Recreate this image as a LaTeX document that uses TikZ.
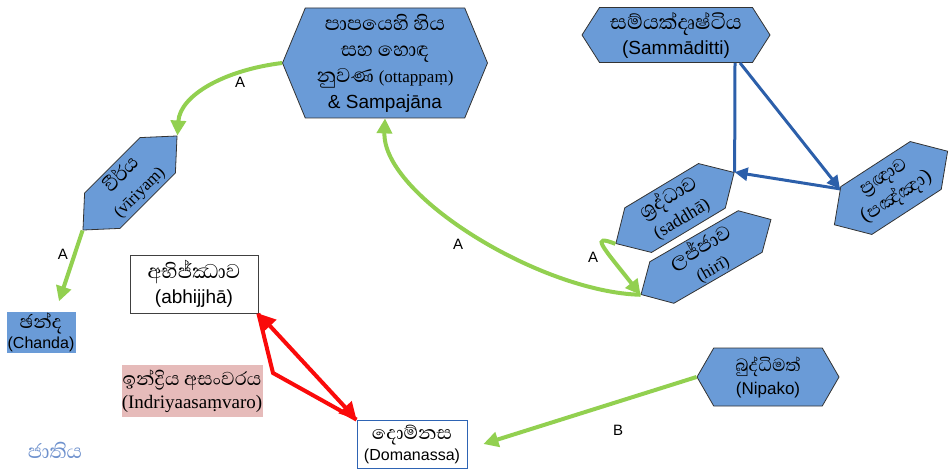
\documentclass[tikz,border=0pt]{standalone}
\usepackage{fontspec}
\setmainfont{Liberation Sans}
\newfontfamily\sinfont[Script=Sinhala, Scale=1.5]{Abhaya Libre}
\newfontfamily\serfont{Liberation Serif}
\usetikzlibrary{shapes.symbols,arrows.meta,calc}
\definecolor{hexblue}{RGB}{106,155,215}
\definecolor{arrowgreen}{RGB}{146,208,80}
\definecolor{linkblue}{RGB}{44,95,170}
\definecolor{dukkhared}{RGB}{250,10,10}
\definecolor{restraintpink}{RGB}{230,187,186}
\definecolor{domblue}{RGB}{46,100,180}
\definecolor{jatiblue}{RGB}{110,145,205}

\begin{document}
\begin{tikzpicture}[x=1pt, y=-1pt]
  \tikzstyle{hexa}=[signal, signal to=east and west, draw=black!80, line width=0.8pt, fill=hexblue, align=center, inner sep=0pt]
  \tikzstyle{whitebox}=[rectangle, draw=black!75, line width=0.8pt, fill=white, align=center, inner sep=0pt]
  \tikzstyle{tagbox}=[rectangle, align=center, inner sep=0pt]
  \tikzstyle{greenarrow}=[draw=arrowgreen, line width=4pt, -{Triangle[length=15pt,width=15pt]}]
  \tikzstyle{bluearrow}=[draw=linkblue, line width=3pt, -{Triangle[length=13pt,width=13pt]}]
  \tikzstyle{redarrow}=[draw=dukkhared, line width=4pt]
  \tikzstyle{lbl}=[font=\fontsize{15}{15}\selectfont]
  \useasboundingbox (0,0) rectangle (950,473);

  % hexagons
  \node[hexa, minimum width=205, minimum height=110, signal pointer angle=135, font=\fontsize{17}{26}\selectfont] (sense) at (385,63)
    {{\sinfont පාපයෙහි හිය}\\{\sinfont සහ හොඳ}\\{\sinfont නුවණ} {\serfont\fontsize{17}{26}\selectfont (ottappaṃ)}\\{\fontsize{19}{26}\selectfont\& Sampajāna}};
  \node[hexa, minimum width=188, minimum height=55, signal pointer angle=115, font=\fontsize{19}{25}\selectfont] (samma) at (676,35)
    {{\sinfont\fontsize{17.5}{25}\selectfont සම්යක්දෘෂ්ටිය}\\(Sammāditti)};
  \node[hexa, rotate=45, minimum width=133, minimum height=50, signal pointer angle=85, font=\fontsize{17}{24}\selectfont] (viriya) at (130,183)
    {{\sinfont\fontsize{16.5}{24}\selectfont වීර්ය}\\{\serfont (vīriyaṃ)}};
  \node[hexa, rotate=31, minimum width=138, minimum height=52, signal pointer angle=90, font=\fontsize{18}{24}\selectfont] (saddha) at (675,208)
    {{\sinfont\fontsize{17}{24}\selectfont ශ්‍රද්ධාව}\\{\serfont (saddhā)}};
  \node[hexa, rotate=30, minimum width=150, minimum height=48, signal pointer angle=90, font=\fontsize{17}{23}\selectfont] (hiri) at (706,257)
    {{\sinfont\fontsize{17}{23}\selectfont ලජ්ජාව}\\{\serfont (hirī)}};
  \node[hexa, rotate=33, minimum width=135, minimum height=57, signal pointer angle=95, font=\fontsize{15.5}{24}\selectfont] (panna) at (891,188)
    {{\sinfont ප්‍රඥාව}\\{\sinfont (පඤ්ඤා)}};
  \node[hexa, minimum width=142, minimum height=58, signal pointer angle=120, font=\fontsize{17}{23}\selectfont] (nipako) at (768,377)
    {{\sinfont\fontsize{15}{23}\selectfont බුද්ධිමත්}\\(Nipako)};

  % boxes
  \node[tagbox, fill=hexblue, minimum width=69, minimum height=41, font=\fontsize{16}{20}\selectfont] (chanda) at (41,332)
    {{\sinfont\fontsize{16}{20}\selectfont ඡන්ද}\\(Chanda)};
  \node[whitebox, minimum width=128, minimum height=58, font=\fontsize{19}{25}\selectfont] (abh) at (194,284)
    {{\sinfont\fontsize{17}{25}\selectfont අභිජ්ඣාව}\\(abhijjhā)};
  \node[tagbox, fill=restraintpink, minimum width=141, minimum height=52, font=\fontsize{19}{23}\selectfont] (indriya) at (192,391)
    {{\sinfont\fontsize{16}{23}\selectfont ඉන්ද්‍රිය අසංවරය}\\{\serfont (Indriyaasaṃvaro)}};
  \node[whitebox, draw=domblue, minimum width=110, minimum height=48, font=\fontsize{16}{21}\selectfont] (dom) at (412,444)
    {{\sinfont\fontsize{16}{21}\selectfont දොම්නස}\\(Domanassa)};
  \node[text=jatiblue, font=\sinfont\fontsize{17}{17}\selectfont] (jati) at (55,450) {ජාතිය};

  % green links
  \draw[greenarrow] (sense.west) .. controls (225,70) and (180,95) .. (viriya.east);
  \draw[greenarrow] (viriya.west) -- ([xshift=18pt,yshift=10pt]chanda.north);
  \draw[greenarrow] (hiri.west) .. controls (540,292) and (382,195) .. (sense.south);
  \draw[greenarrow] (saddha.west) .. controls (590,234) and (602,246) .. (hiri.west);
  \draw[greenarrow] (nipako.west) -- ([xshift=16pt]dom.east);

  % blue links
  \draw[draw=linkblue, line width=3pt] ([xshift=59pt]samma.south) -- (saddha.east);
  \draw[bluearrow] ([xshift=64pt]samma.south) -- (panna.148);
  \draw[bluearrow] (panna.148) -- (saddha.east);

  % red links
  \coordinate (bend) at (273,373);
  \draw[redarrow] (dom.north west) -- (bend) -- (abh.south east);
  \draw[redarrow, {Triangle[length=17pt,width=17pt]}-{Triangle[length=17pt,width=17pt]}] (dom.north west) -- (abh.south east);

  % labels
  \node[lbl] (a1) at (240,82) {A};
  \node[lbl] (a2) at (63,254) {A};
  \node[lbl] (a3) at (458,244) {A};
  \node[lbl] (a4) at (593,257) {A};
  \node[lbl] (b1) at (618,430) {B};
\end{tikzpicture}
\end{document}
